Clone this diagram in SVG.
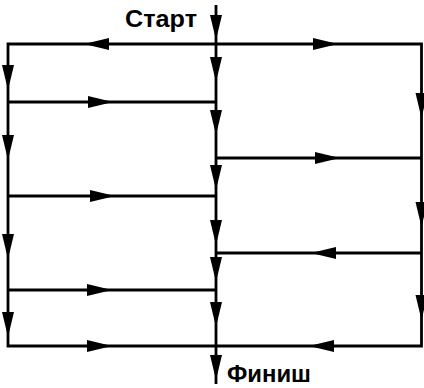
<svg xmlns="http://www.w3.org/2000/svg" xmlns:xlink="http://www.w3.org/1999/xlink" width="424" height="388" viewBox="0 0 424 388">
<style>
.ln{fill:none;stroke:#000;stroke-width:2.8;stroke-linejoin:miter;stroke-linecap:butt}
.ah{fill:#000;stroke:none}
.lbl{font-family:"Liberation Sans",Arial,sans-serif;font-weight:bold;font-size:24px;fill:#000}
</style>
<defs>
<path id="ar" class="ah" d="M0,0 L-25,-6 L-25,6 Z"/>
</defs>
<rect width="424" height="388" fill="#fff"/>
<g id="connectors">
<path class="ln" d="M8,44 H421.5 V346 H8 Z"/>
<path class="ln" d="M216,5 V384"/>
<path class="ln" d="M8,102 H216 M8,196 H216 M8,290 H216"/>
<path class="ln" d="M216,158 H421.5 M216,253 H421.5"/>
<g id="arrows">
<use xlink:href="#ar" transform="translate(216,40) rotate(90)"/>
<use xlink:href="#ar" transform="translate(216,82) rotate(90)"/>
<use xlink:href="#ar" transform="translate(216,135) rotate(90)"/>
<use xlink:href="#ar" transform="translate(216,190) rotate(90)"/>
<use xlink:href="#ar" transform="translate(216,245) rotate(90)"/>
<use xlink:href="#ar" transform="translate(216,282) rotate(90)"/>
<use xlink:href="#ar" transform="translate(216,327) rotate(90)"/>
<use xlink:href="#ar" transform="translate(216,380) rotate(90)"/>
<use xlink:href="#ar" transform="translate(8,90) rotate(90)"/>
<use xlink:href="#ar" transform="translate(8,160) rotate(90)"/>
<use xlink:href="#ar" transform="translate(8,259) rotate(90)"/>
<use xlink:href="#ar" transform="translate(8,337) rotate(90)"/>
<use xlink:href="#ar" transform="translate(421.5,118) rotate(90)"/>
<use xlink:href="#ar" transform="translate(421.5,227) rotate(90)"/>
<use xlink:href="#ar" transform="translate(421.5,320) rotate(90)"/>
<use xlink:href="#ar" transform="translate(84,44) rotate(180)"/>
<use xlink:href="#ar" transform="translate(338,44)"/>
<use xlink:href="#ar" transform="translate(113,102)"/>
<use xlink:href="#ar" transform="translate(340,158)"/>
<use xlink:href="#ar" transform="translate(115,196)"/>
<use xlink:href="#ar" transform="translate(311,253) rotate(180)"/>
<use xlink:href="#ar" transform="translate(112,290)"/>
<use xlink:href="#ar" transform="translate(112,346)"/>
<use xlink:href="#ar" transform="translate(309,346) rotate(180)"/>
</g>
</g>
<g id="start"><text class="lbl" x="125" y="27" textLength="72" lengthAdjust="spacingAndGlyphs">Старт</text></g>
<g id="finish"><text class="lbl" x="227" y="382" font-size="23" textLength="84" lengthAdjust="spacingAndGlyphs">Финиш</text></g>
</svg>
